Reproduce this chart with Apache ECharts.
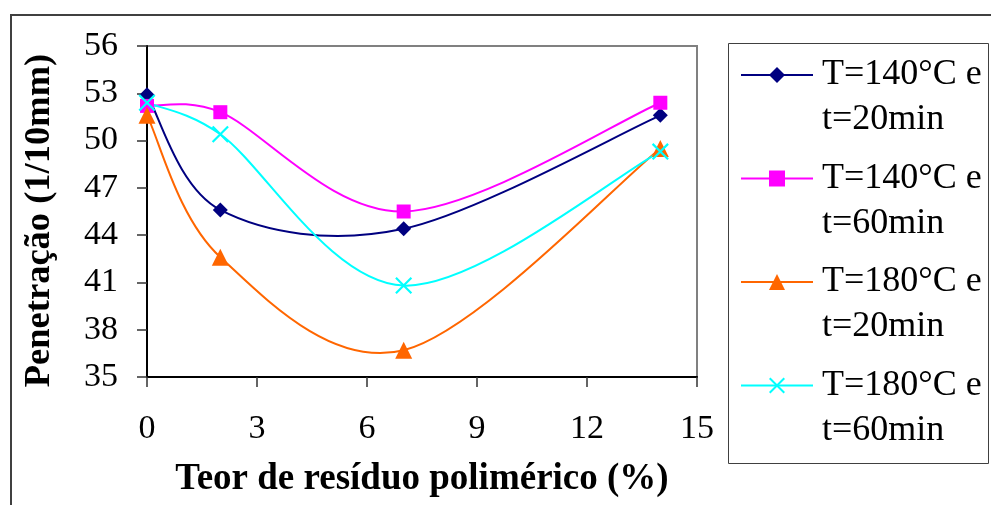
<!DOCTYPE html>
<html>
<head>
<meta charset="utf-8">
<script src="https://cdn.jsdelivr.net/npm/echarts@6/dist/echarts.min.js"></script>
<style>
  html, body { margin: 0; padding: 0; background: #fff; }
  #chart { width: 991px; height: 505px; }
</style>
</head>
<body>
<div id="chart"></div>
<script>
// Polymer residue content (%)
const residueContent = [0, 2, 7, 14];

// Penetration (1/10 mm) for each heating condition
const t140_20 = [52.9, 45.6, 44.4, 51.6];
const t140_60 = [52.2, 51.8, 45.5, 52.4];
const t180_20 = [51.6, 42.6, 36.7, 49.5];
const t180_60 = [52.4, 50.4, 40.8, 49.3];

const seriesNames = [
  'T=140°C e\nt=20min',
  'T=140°C e\nt=60min',
  'T=180°C e\nt=20min',
  'T=180°C e\nt=60min'
];
const seriesColors = ['#000080', '#FF00FF', '#FF6600', '#00FFFF'];

const xTitle = 'Teor de resíduo polimérico (%)';
const yTitle = 'Penetração (1/10mm)';

const SERIF = '"Liberation Serif", "Times New Roman", serif';
const crossPath = 'path://M0,9L9,0L100,91L91,100ZM91,0L100,9L9,100L0,91Z';

function pairs(values) {
  return residueContent.map((x, i) => [x, values[i]]);
}

// Spreadsheet-style smoothed curve: cubic Bezier segments whose control
// arms follow the neighbouring chord, limited to half of the segment length.
function smoothPathData(pts) {
  const dist = (a, b) => Math.hypot(b[0] - a[0], b[1] - a[1]);
  let d = 'M' + pts[0][0] + ' ' + pts[0][1];
  for (let i = 0; i < pts.length - 1; i++) {
    const p0 = pts[Math.max(i - 1, 0)];
    const p1 = pts[i];
    const p2 = pts[i + 1];
    const p3 = pts[Math.min(i + 2, pts.length - 1)];
    const d12 = dist(p1, p2);
    const d02 = dist(p0, p2);
    const d13 = dist(p1, p3);
    const f1 = d02 > 0 ? Math.min(1 / 6, d12 / (2 * d02)) : 0;
    const f2 = d13 > 0 ? Math.min(1 / 6, d12 / (2 * d13)) : 0;
    const c1 = [p1[0] + (p2[0] - p0[0]) * f1, p1[1] + (p2[1] - p0[1]) * f1];
    const c2 = [p2[0] - (p3[0] - p1[0]) * f2, p2[1] - (p3[1] - p1[1]) * f2];
    d += 'C' + c1[0] + ' ' + c1[1] + ' ' + c2[0] + ' ' + c2[1] + ' ' + p2[0] + ' ' + p2[1];
  }
  return d;
}

function curveSeries(values, color) {
  const data = pairs(values);
  return {
    type: 'custom',
    coordinateSystem: 'cartesian2d',
    data: data,
    encode: { x: 0, y: 1 },
    silent: true,
    z: 2,
    renderItem: function (params, api) {
      if (params.dataIndex !== 0) return null;
      const pts = data.map(p => api.coord(p));
      return {
        type: 'path',
        shape: { pathData: smoothPathData(pts) },
        style: { fill: 'none', stroke: color, lineWidth: 2 }
      };
    }
  };
}

function markerSeries(name, values, color, symbol, size) {
  return {
    name: name,
    type: 'line',
    data: pairs(values),
    symbol: symbol,
    symbolSize: size,
    showSymbol: true,
    lineStyle: { color: color, width: 2, opacity: 0 },
    itemStyle: { color: color },
    emphasis: { disabled: true },
    z: 3
  };
}

const chart = echarts.init(document.getElementById('chart'), null, { renderer: 'canvas' });

chart.setOption({
  animation: false,
  backgroundColor: '#fff',
  grid: {
    left: 147, top: 46, right: 294, bottom: 128,
    show: true, borderColor: '#808080', borderWidth: 2, backgroundColor: 'transparent'
  },
  xAxis: {
    type: 'value',
    min: 0, max: 15, interval: 3,
    name: xTitle,
    nameLocation: 'middle',
    nameGap: 84,
    nameTextStyle: { fontFamily: SERIF, fontSize: 37, fontWeight: 'bold', color: '#000' },
    axisLine: { show: true, onZero: false, lineStyle: { color: '#000', width: 2 } },
    axisTick: { show: true, inside: false, length: 10, lineStyle: { color: '#333', width: 1.5 } },
    axisLabel: { fontFamily: SERIF, fontSize: 34, color: '#000', margin: 35, lineHeight: 34 },
    splitLine: { show: false }
  },
  yAxis: {
    type: 'value',
    min: 35, max: 56, interval: 3,
    name: yTitle,
    nameLocation: 'middle',
    nameGap: 89,
    nameTextStyle: {
      fontFamily: SERIF, fontSize: 36.5, fontWeight: 'bold', color: '#000',
      padding: [0, 18, 0, 0]
    },
    axisLine: { show: true, onZero: false, lineStyle: { color: '#000', width: 2 } },
    axisTick: { show: true, inside: false, length: 10, lineStyle: { color: '#333', width: 1.5 } },
    axisLabel: { fontFamily: SERIF, fontSize: 34, color: '#000', margin: 29 },
    splitLine: { show: false }
  },
  legend: {
    orient: 'vertical',
    left: 740,
    top: 7.5,
    padding: 0,
    itemWidth: 72,
    itemHeight: 20,
    itemGap: -31.5,
    selectedMode: false,
    data: seriesNames.map((n, i) => ({
      name: n,
      lineStyle: { color: seriesColors[i], width: 2, opacity: 1 }
    })),
    formatter: name => '\n' + name,
    textStyle: {
      fontFamily: SERIF, fontSize: 36, lineHeight: 45, color: '#000',
      padding: [0, 0, 0, 4], backgroundColor: 'transparent'
    }
  },
  graphic: [
    {
      type: 'rect', silent: true, z: -10,
      shape: { x: 11, y: 15, width: 1100, height: 600 },
      style: { fill: 'none', stroke: '#404040', lineWidth: 2 }
    },
    {
      type: 'rect', silent: true, z: -10,
      shape: { x: 728.5, y: 43.5, width: 260, height: 420 },
      style: { fill: 'none', stroke: '#404040', lineWidth: 1 }
    }
  ],
  series: [
    curveSeries(t140_20, seriesColors[0]),
    curveSeries(t140_60, seriesColors[1]),
    curveSeries(t180_20, seriesColors[2]),
    curveSeries(t180_60, seriesColors[3]),
    markerSeries(seriesNames[0], t140_20, seriesColors[0], 'diamond', 15),
    markerSeries(seriesNames[1], t140_60, seriesColors[1], 'rect', 14),
    markerSeries(seriesNames[2], t180_20, seriesColors[2], 'triangle', 17),
    markerSeries(seriesNames[3], t180_60, seriesColors[3], crossPath, 17)
  ]
});
</script>
</body>
</html>
